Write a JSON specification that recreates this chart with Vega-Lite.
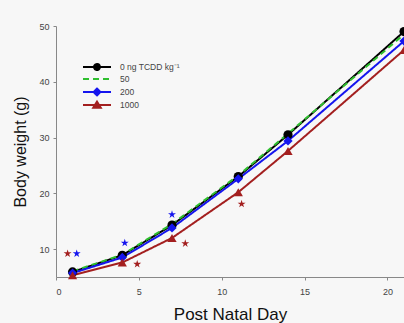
{
  "$schema": "https://vega.github.io/schema/vega-lite/v6.json",
  "width": 348,
  "height": 251,
  "autosize": {"type": "none"},
  "padding": {"left": 56, "top": 26, "right": 0, "bottom": 46},
  "background": "#f7f7f7",
  "config": {
    "view": {"stroke": null},
    "font": "Liberation Sans",
    "axis": {"domainColor": "#888888", "tickColor": "#888888", "labelColor": "#444444", "labelFontSize": 9, "titleFontWeight": "normal", "titleColor": "#111111", "grid": false, "tickSize": 3}
  },
  "datasets": {
    "weights": [
      {"day": 1, "dose": "0 ng TCDD kg⁻¹", "weight": 5.9},
      {"day": 4, "dose": "0 ng TCDD kg⁻¹", "weight": 8.9},
      {"day": 7, "dose": "0 ng TCDD kg⁻¹", "weight": 14.3},
      {"day": 11, "dose": "0 ng TCDD kg⁻¹", "weight": 23.0},
      {"day": 14, "dose": "0 ng TCDD kg⁻¹", "weight": 30.5},
      {"day": 21, "dose": "0 ng TCDD kg⁻¹", "weight": 49.0},
      {"day": 1, "dose": "50", "weight": 6.0},
      {"day": 4, "dose": "50", "weight": 9.0},
      {"day": 7, "dose": "50", "weight": 14.5},
      {"day": 11, "dose": "50", "weight": 23.2},
      {"day": 14, "dose": "50", "weight": 30.7},
      {"day": 21, "dose": "50", "weight": 48.5},
      {"day": 1, "dose": "200", "weight": 5.7},
      {"day": 4, "dose": "200", "weight": 8.5},
      {"day": 7, "dose": "200", "weight": 13.8},
      {"day": 11, "dose": "200", "weight": 22.6},
      {"day": 14, "dose": "200", "weight": 29.4},
      {"day": 21, "dose": "200", "weight": 47.3},
      {"day": 1, "dose": "1000", "weight": 5.3},
      {"day": 4, "dose": "1000", "weight": 7.6},
      {"day": 7, "dose": "1000", "weight": 12.0},
      {"day": 11, "dose": "1000", "weight": 20.2},
      {"day": 14, "dose": "1000", "weight": 27.6},
      {"day": 21, "dose": "1000", "weight": 45.7}
    ],
    "stars": [
      {"day": 0.7, "dose": "1000", "weight": 9.2},
      {"day": 1.25, "dose": "200", "weight": 9.2},
      {"day": 4.15, "dose": "200", "weight": 11.1},
      {"day": 4.9, "dose": "1000", "weight": 7.3},
      {"day": 7.0, "dose": "200", "weight": 16.2},
      {"day": 7.8, "dose": "1000", "weight": 11.0},
      {"day": 11.2, "dose": "1000", "weight": 18.1}
    ]
  },
  "layer": [
    {
      "data": {"name": "weights"},
      "mark": {"type": "line", "clip": false},
      "encoding": {
        "x": {"field": "day", "type": "quantitative", "scale": {"domain": [0, 21], "nice": false}, "axis": {"values": [0, 5, 10, 15, 20], "title": "Post Natal Day", "titleFontSize": 17, "titlePadding": 10, "labelPadding": 7}},
        "y": {"field": "weight", "type": "quantitative", "scale": {"domain": [5, 50], "nice": false, "zero": false}, "axis": {"values": [10, 20, 30, 40, 50], "title": "Body weight (g)", "titleFontSize": 16, "titlePadding": 10, "labelPadding": 4}},
        "color": {"field": "dose", "type": "nominal", "scale": {"domain": ["0 ng TCDD kg⁻¹", "50", "200", "1000"], "range": ["#000000", "#2fbf2f", "#1515ee", "#a31f1f"]},
          "legend": {"title": null, "orient": "none", "legendX": 36, "legendY": 36, "labelFontSize": 8.5, "labelColor": "#444444", "symbolSize": 64, "symbolStrokeWidth": 2, "labelOffset": 18, "rowPadding": -3.5,
            "encode": {"symbols": {"update": {
              "shape": {"signal": "datum.index === 0 ? 'M-3.5,0H3.5M0.75,0A0.75,0.75 0 1,1 -0.75,0A0.75,0.75 0 1,1 0.75,0Z' : datum.index === 1 ? 'M-3.5,0H3.5M0,-1V-1M0,1V1' : datum.index === 2 ? 'M-3.5,0H3.5M0,-0.85L0.85,0L0,0.85L-0.85,0Z' : 'M-3.5,0H3.5M0,-0.85L0.95,0.7L-0.95,0.7Z'"},
              "fill": {"signal": "scale('color', datum.value)"},
              "fillOpacity": {"value": 1}
            }}}}},
        "strokeDash": {"field": "dose", "type": "nominal", "scale": {"domain": ["0 ng TCDD kg⁻¹", "50", "200", "1000"], "range": [[1, 0], [6, 4], [1, 0], [1, 0]]}},
        "strokeWidth": {"field": "dose", "type": "nominal", "scale": {"domain": ["0 ng TCDD kg⁻¹", "50", "200", "1000"], "range": [2, 2, 2, 1.5]}, "legend": null}
      }
    },
    {
      "data": {"name": "weights"},
      "transform": [{"filter": "datum.dose !== '50'"}],
      "mark": {"type": "point", "filled": true, "opacity": 1, "size": 85, "clip": false},
      "encoding": {
        "x": {"field": "day", "type": "quantitative"},
        "y": {"field": "weight", "type": "quantitative"},
        "color": {"field": "dose", "type": "nominal"},
        "shape": {"field": "dose", "type": "nominal", "scale": {"domain": ["0 ng TCDD kg⁻¹", "200", "1000"], "range": ["circle", "diamond", "triangle-up"]}, "legend": null}
      }
    },
    {
      "data": {"name": "stars"},
      "mark": {"type": "point", "filled": true, "opacity": 1, "size": 70, "shape": "M0,-1L0.22,-0.31L0.95,-0.31L0.36,0.12L0.59,0.81L0,0.38L-0.59,0.81L-0.36,0.12L-0.95,-0.31L-0.22,-0.31Z"},
      "encoding": {
        "x": {"field": "day", "type": "quantitative"},
        "y": {"field": "weight", "type": "quantitative"},
        "color": {"field": "dose", "type": "nominal"}
      }
    }
  ]
}
